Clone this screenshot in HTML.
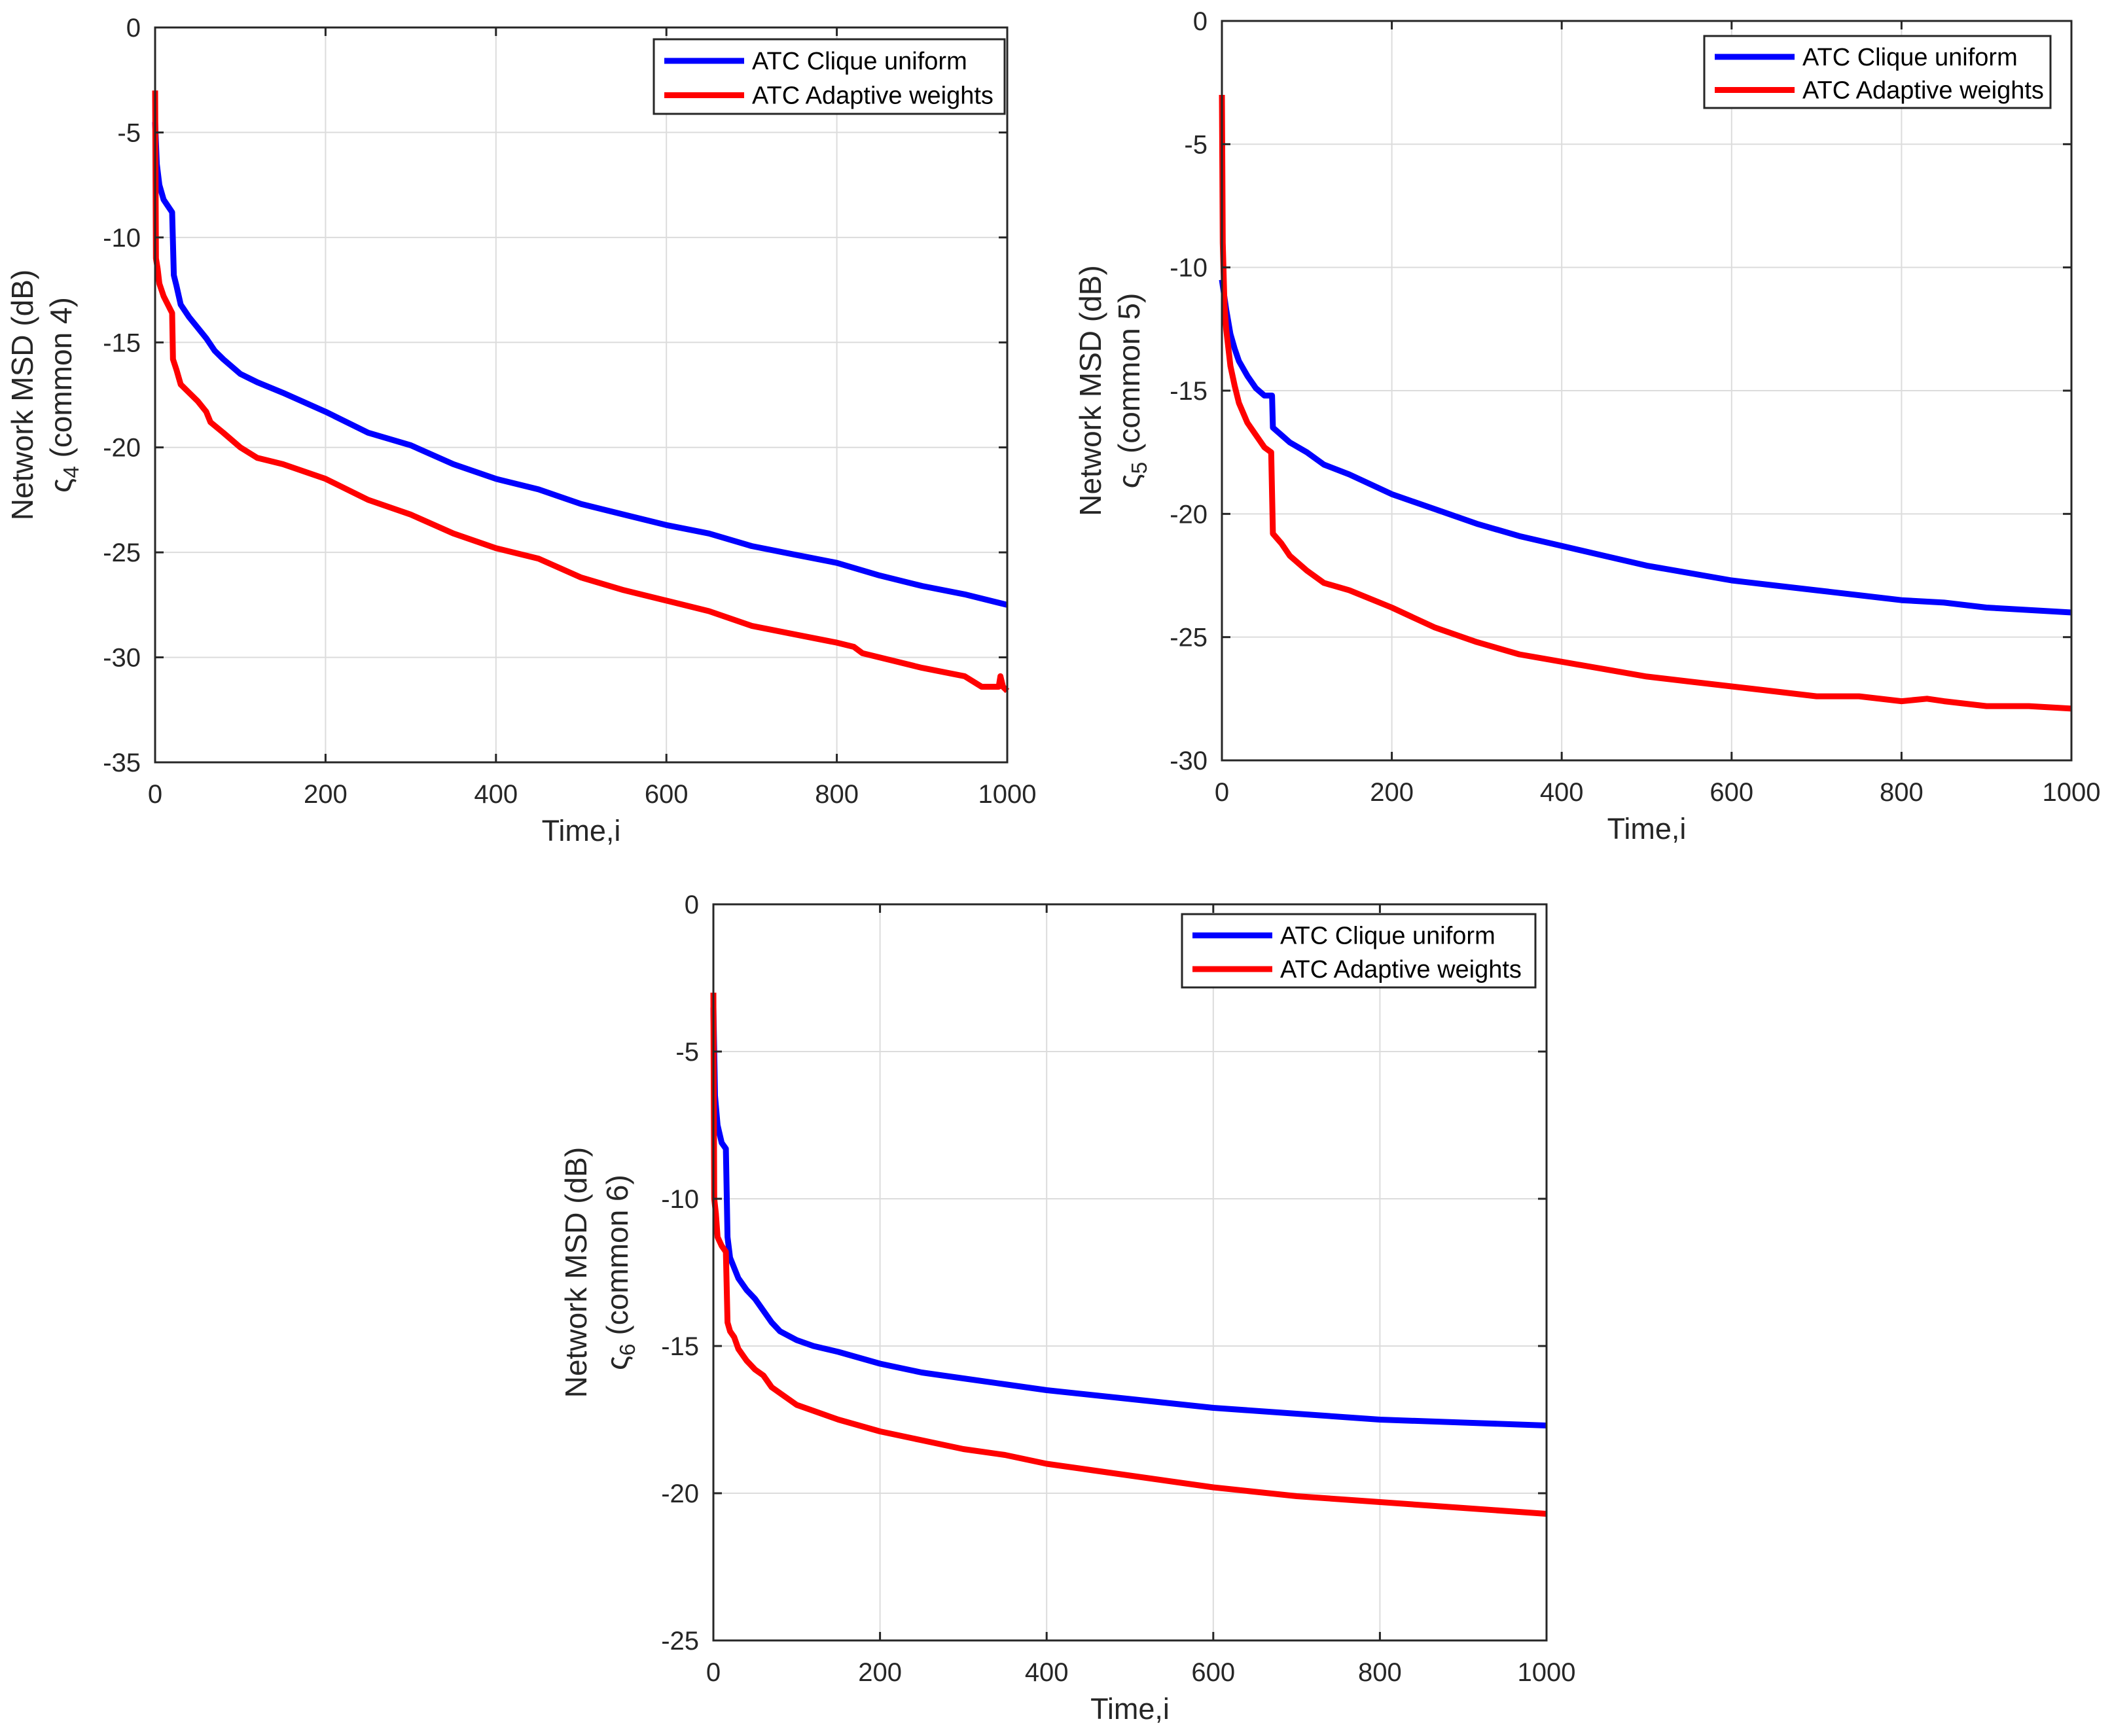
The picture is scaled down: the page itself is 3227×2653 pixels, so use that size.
<!DOCTYPE html>
<html><head><meta charset="utf-8"><style>
html,body{margin:0;padding:0;background:#fff;}
svg{display:block;font-family:"Liberation Sans",Arial,sans-serif;}
</style></head><body>
<svg id="fig" width="3227" height="2653" viewBox="0 0 3227 2653"></svg>
<script>
// ---- data arrays ----
const xTicks = [0,200,400,600,800,1000];
const p1Yticks = [0,-5,-10,-15,-20,-25,-30,-35];
const p2Yticks = [0,-5,-10,-15,-20,-25,-30];
const p3Yticks = [0,-5,-10,-15,-20,-25];
const seriesNames = ["ATC Clique uniform","ATC Adaptive weights"];

const p1BlueX = [0,2,5,10,20,22,25,30,40,50,60,70,80,100,120,150,200,250,300,350,400,450,500,550,600,650,700,750,800,850,900,950,1000];
const p1BlueY = [-4.5,-6.5,-7.5,-8.2,-8.8,-11.8,-12.3,-13.2,-13.8,-14.3,-14.8,-15.4,-15.8,-16.5,-16.9,-17.4,-18.3,-19.3,-19.9,-20.8,-21.5,-22.0,-22.7,-23.2,-23.7,-24.1,-24.7,-25.1,-25.5,-26.1,-26.6,-27.0,-27.5];
const p1RedX = [0,1,3,5,10,20,21,25,30,40,50,60,65,80,100,120,150,200,250,300,350,400,450,500,550,600,650,700,750,800,820,830,850,900,950,970,990,992,995,1000];
const p1RedY = [-3,-11,-11.5,-12.2,-12.8,-13.6,-15.8,-16.3,-17.0,-17.4,-17.8,-18.3,-18.8,-19.3,-20.0,-20.5,-20.8,-21.5,-22.5,-23.2,-24.1,-24.8,-25.3,-26.2,-26.8,-27.3,-27.8,-28.5,-28.9,-29.3,-29.5,-29.8,-30.0,-30.5,-30.9,-31.4,-31.4,-30.9,-31.4,-31.6];

const p2BlueX = [0,5,10,15,20,30,40,50,59,60,70,80,100,120,150,200,250,300,350,400,450,500,550,600,650,700,750,800,850,900,950,1000];
const p2BlueY = [-10.5,-11.7,-12.7,-13.3,-13.8,-14.4,-14.9,-15.2,-15.2,-16.5,-16.8,-17.1,-17.5,-18.0,-18.4,-19.2,-19.8,-20.4,-20.9,-21.3,-21.7,-22.1,-22.4,-22.7,-22.9,-23.1,-23.3,-23.5,-23.6,-23.8,-23.9,-24.0];
const p2RedX = [0,1,3,5,10,15,20,30,40,50,58,60,70,80,100,120,150,200,250,300,350,400,450,500,550,600,650,700,750,800,830,850,900,950,1000];
const p2RedY = [-3,-9,-11.5,-12.5,-14,-14.8,-15.5,-16.3,-16.8,-17.3,-17.5,-20.8,-21.2,-21.7,-22.3,-22.8,-23.1,-23.8,-24.6,-25.2,-25.7,-26.0,-26.3,-26.6,-26.8,-27.0,-27.2,-27.4,-27.4,-27.6,-27.5,-27.6,-27.8,-27.8,-27.9];

const p3BlueX = [0,2,5,10,15,17,20,30,40,50,60,70,80,100,120,150,200,250,300,350,400,500,600,700,800,900,1000];
const p3BlueY = [-3.5,-6.5,-7.5,-8.1,-8.3,-11.3,-12,-12.7,-13.1,-13.4,-13.8,-14.2,-14.5,-14.8,-15.0,-15.2,-15.6,-15.9,-16.1,-16.3,-16.5,-16.8,-17.1,-17.3,-17.5,-17.6,-17.7];
const p3RedX = [0,1,3,5,10,15,17,20,25,30,40,50,60,70,80,100,120,150,200,250,300,350,400,450,500,600,700,800,900,1000];
const p3RedY = [-3,-10,-10.5,-11.3,-11.6,-11.8,-14.2,-14.5,-14.7,-15.1,-15.5,-15.8,-16.0,-16.4,-16.6,-17.0,-17.2,-17.5,-17.9,-18.2,-18.5,-18.7,-19.0,-19.2,-19.4,-19.8,-20.1,-20.3,-20.5,-20.7];

const NS = "http://www.w3.org/2000/svg";
const svg = document.getElementById("fig");
function mk(tag, attrs, parent){ const e=document.createElementNS(NS,tag); for(const k in attrs) e.setAttribute(k,attrs[k]); (parent||svg).appendChild(e); return e; }

function plot(id, box, ymin, yTicks, blueX, blueY, redX, redY, leg, sub, common){
  const g = mk("g",{});
  
  
  const [L,T,R,B] = box;
  const sx = v => L + (v-0)/(1000-0)*(R-L);
  const sy = v => T + (0-v)/(0-ymin)*(B-T);
  xTicks.forEach(t=>{ if(t>0&&t<1000){ const l=mk("line",{x1:sx(t),x2:sx(t),y1:T,y2:B,stroke:"#dcdcdc","stroke-width":2},g);
      }});
  yTicks.forEach(t=>{ if(t<0&&t>ymin){ const l=mk("line",{x1:L,x2:R,y1:sy(t),y2:sy(t),stroke:"#dcdcdc","stroke-width":2},g);
      }});
  function line(xs,ys,col,name){
    const d = xs.map((x,i)=>(i?"L":"M")+sx(x).toFixed(1)+","+sy(ys[i]).toFixed(1)).join("");
    const p = mk("path",{d:d,fill:"none",stroke:col,"stroke-width":9,"stroke-linejoin":"round"},g);
    
    
  }
  line(blueX,blueY,"#0000ff","series-clique-uniform");
  line(redX,redY,"#ff0000","series-adaptive-weights");
  const ax = mk("rect",{x:L,y:T,width:R-L,height:B-T,fill:"none",stroke:"#262626","stroke-width":3},g);
   
  xTicks.forEach(t=>{
    mk("line",{x1:sx(t),x2:sx(t),y1:B,y2:B-13,stroke:"#262626","stroke-width":3},g);
    mk("line",{x1:sx(t),x2:sx(t),y1:T,y2:T+13,stroke:"#262626","stroke-width":3},g);
    const tx = mk("text",{x:sx(t),y:B+62,"text-anchor":"middle","font-size":40,fill:"#262626"},g);
    tx.textContent=t;
     
  });
  yTicks.forEach(t=>{
    mk("line",{x1:L,x2:L+13,y1:sy(t),y2:sy(t),stroke:"#262626","stroke-width":3},g);
    mk("line",{x1:R,x2:R-13,y1:sy(t),y2:sy(t),stroke:"#262626","stroke-width":3},g);
    const ty = mk("text",{x:L-22,y:sy(t)+14,"text-anchor":"end","font-size":40,fill:"#262626"},g);
    ty.textContent=t;
     
  });
  const xl = mk("text",{x:(L+R)/2,y:B+120,"text-anchor":"middle","font-size":45,fill:"#262626"},g);
  xl.textContent="Time,i";
   
  const cy=(T+B)/2;
  const yl1 = mk("text",{x:sub[0],y:cy,"text-anchor":"middle","font-size":46,fill:"#262626",transform:`rotate(-90 ${sub[0]} ${cy})`},g);
  yl1.textContent="Network MSD (dB)";
   
  const yl2 = mk("text",{x:sub[1]+16,y:cy,"text-anchor":"middle","font-size":46,fill:"#262626",transform:`rotate(-90 ${sub[1]+16} ${cy})`},g);
  yl2.innerHTML = `ς<tspan font-size="33" dy="11">${common}</tspan><tspan dy="-11"> (common ${common})</tspan>`;
   
  const [lx,ly,lw,lh]=leg;
  const lg = mk("g",{},g);
   
  mk("rect",{x:lx,y:ly,width:lw,height:lh,fill:"#fff",stroke:"#262626","stroke-width":3},lg);
  const cols=["#0000ff","#ff0000"];
  seriesNames.forEach((n,i)=>{
    const yy = ly + lh*(0.29+0.46*i);
    const e = mk("g",{},lg);
     
    mk("line",{x1:lx+16,x2:lx+138,y1:yy,y2:yy,stroke:cols[i],"stroke-width":9},e);
    const t = mk("text",{x:lx+150,y:yy+13,"font-size":38,fill:"#000"},e);
    t.textContent=n;
  });
}
plot("chart-common-4",[237,42,1539,1165],-35,p1Yticks,p1BlueX,p1BlueY,p1RedX,p1RedY,[999,60,536,114],[50,93],4);
plot("chart-common-5",[1867,32,3165,1162],-30,p2Yticks,p2BlueX,p2BlueY,p2RedX,p2RedY,[2604,55,529,110],[1682,1725],5);
plot("chart-common-6",[1090,1382,2363,2507],-25,p3Yticks,p3BlueX,p3BlueY,p3RedX,p3RedY,[1806,1397,540,112],[896,943],6);
</script>
</body></html>
